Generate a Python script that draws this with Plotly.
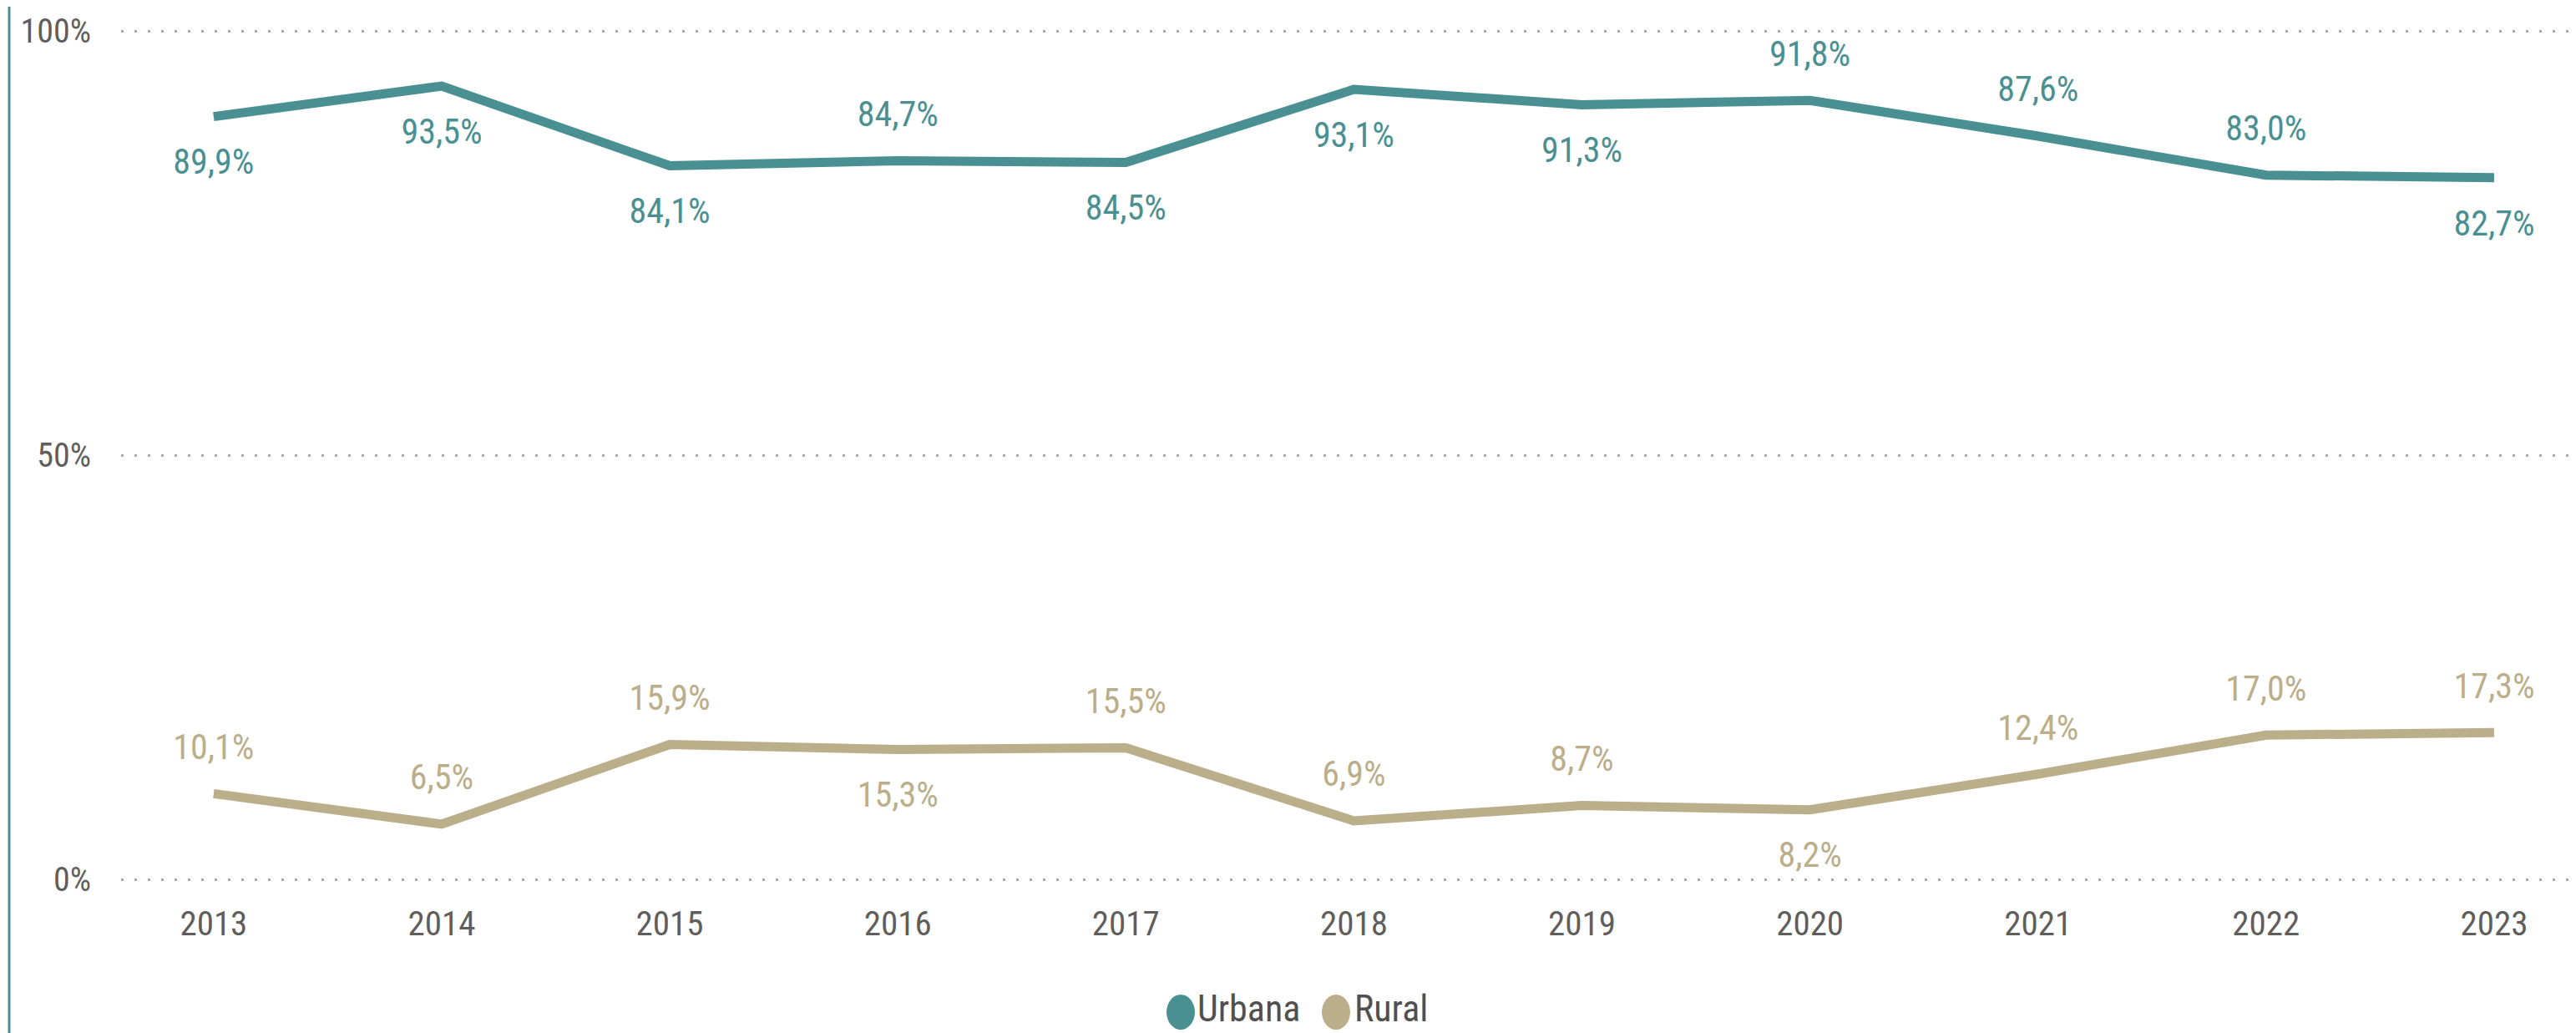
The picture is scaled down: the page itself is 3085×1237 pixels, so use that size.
import plotly.graph_objects as go

years = [2013, 2014, 2015, 2016, 2017, 2018, 2019, 2020, 2021, 2022, 2023]
urbana = [89.9, 93.5, 84.1, 84.7, 84.5, 93.1, 91.3, 91.8, 87.6, 83.0, 82.7]
rural = [10.1, 6.5, 15.9, 15.3, 15.5, 6.9, 8.7, 8.2, 12.4, 17.0, 17.3]
urbana_pos = ["bottom", "bottom", "bottom", "top", "bottom", "bottom", "bottom", "top", "top", "top", "bottom"]
rural_pos = ["top", "top", "top", "bottom", "top", "top", "top", "bottom", "top", "top", "top"]
y_ticks = [0, 50, 100]
y_tick_labels = ["0%", "50%", "100%"]
series_names = ["Urbana", "Rural"]

C_URB = "#4A9093"
C_RUR = "#BBAE8A"
TXT = "#605E5C"
FONT = "Roboto Condensed, Open Sans"

# the html page body has an 8px margin, so the figure is drawn 8px right/down
OFF = 8
FIG_W, FIG_H = 3085 - OFF, 1237 - OFF
# plot area (figure pixels)
L, T, W, H = 145 - OFF, 20 - OFF, 2940, 1050
# invisible marker sizes that set the label offset from the line
LABEL_GAP = {"top": 48, "bottom": 58}


def px_x(page_px):
    return (page_px - OFF - L) / W


def px_y(page_py):
    return (T + H - (page_py - OFF)) / H


def fmt(v):
    return f"{v:.1f}".replace(".", ",") + "%"


fig = go.Figure()
for name, vals, pos, col in [(series_names[0], urbana, urbana_pos, C_URB),
                             (series_names[1], rural, rural_pos, C_RUR)]:
    fig.add_trace(go.Scatter(
        x=years, y=vals, name=name, mode="lines+markers+text",
        line=dict(color=col, width=11),
        marker=dict(size=[LABEL_GAP[p] for p in pos], opacity=0, color=col),
        text=[fmt(v) for v in vals],
        textposition=[p + " center" for p in pos],
        textfont=dict(color=col, size=42, family=FONT, weight=400),
        showlegend=False, hoverinfo="skip",
    ))

# left border line of the visual
fig.add_shape(type="line", xref="paper", yref="paper", x0=px_x(11), x1=px_x(11), y0=px_y(1245), y1=px_y(0),
              line=dict(color=C_URB, width=3))

# custom legend (large round symbols)
for name, col, bx, tx in [(series_names[0], C_URB, 1414, 1432), (series_names[1], C_RUR, 1600, 1620)]:
    fig.add_shape(type="circle", xref="paper", yref="paper", xsizemode="pixel", ysizemode="pixel",
                  xanchor=px_x(bx), yanchor=px_y(1212), x0=-17, x1=17, y0=-21, y1=21,
                  fillcolor=col, line=dict(width=0))
    fig.add_annotation(xref="paper", yref="paper", x=px_x(tx), y=px_y(1208), showarrow=False,
                       text=name, font=dict(size=44, color="#505050", family=FONT, weight=400),
                       xanchor="left", yanchor="middle")

fig.update_layout(
    width=FIG_W, height=FIG_H,
    margin=dict(l=L, r=FIG_W - L - W, t=T, b=FIG_H - T - H),
    paper_bgcolor="white", plot_bgcolor="white",
    xaxis=dict(range=[2012.594, 2023.359], tickvals=years, ticktext=[str(y) for y in years],
               showgrid=False, zeroline=False, showline=False,
               ticks="", ticklabelstandoff=8,
               tickfont=dict(size=41, color=TXT, family=FONT, weight=400)),
    yaxis=dict(range=[-1.673, 101.673], tickvals=y_ticks, ticktext=y_tick_labels,
               showgrid=True, gridcolor="#A8A8A8", gridwidth=3, griddash="3px,13px",
               zeroline=False, showline=False,
               ticks="outside", ticklen=27, tickcolor="rgba(0,0,0,0)",
               tickfont=dict(size=40, color=TXT, family=FONT, weight=400)),
)

fig.write_html("out.html")
